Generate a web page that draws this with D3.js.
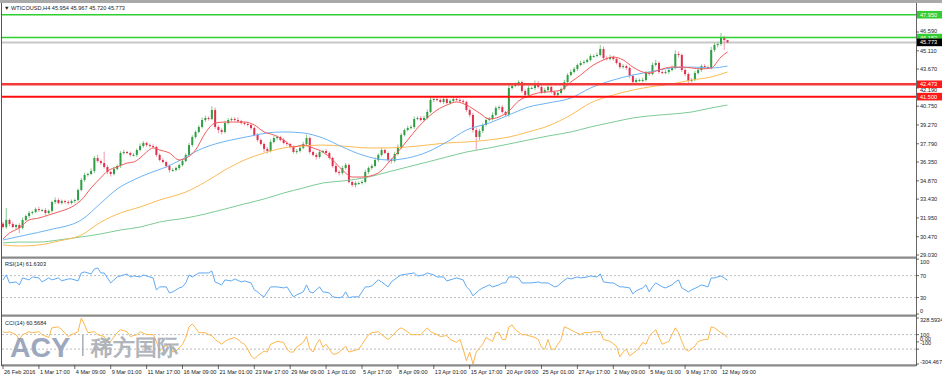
<!DOCTYPE html>
<html>
<head>
<meta charset="utf-8">
<script src="https://cdn.jsdelivr.net/npm/d3@7"></script>
<style>
  body { margin: 0; background: #fff; }
  text { font-family: "Liberation Sans", Arial, sans-serif; }
</style>
</head>
<body>
<div id="chart"></div>
<script>

// ---- WTICOUSD H4 closes ----
const firstOpen = 31.50;
const closes = [
  31.23,31.79,31.47,31.23,31.39,31.16,31.79,32.10,32.34,32.42,
  32.65,32.57,32.57,32.34,32.50,33.20,33.36,33.12,33.28,33.20,
  33.12,33.28,33.36,34.15,34.94,35.33,35.41,35.65,36.67,36.43,
  36.27,35.96,35.57,35.41,35.80,36.04,37.06,37.14,37.06,36.91,
  36.91,37.30,37.61,37.85,37.69,37.61,37.54,36.91,36.51,36.35,
  36.04,35.72,35.72,35.88,36.12,36.43,36.91,37.69,38.32,38.72,
  39.11,39.66,39.82,39.74,40.45,39.11,38.87,38.72,39.42,39.66,
  39.74,39.66,39.58,39.42,39.35,39.27,39.03,38.48,38.09,37.77,
  37.38,37.22,37.93,38.24,38.32,38.09,37.85,37.77,37.54,37.14,
  37.22,37.46,37.77,38.24,37.14,36.91,36.75,37.14,37.22,37.06,
  36.67,36.04,35.57,35.49,35.88,36.12,34.78,34.54,34.70,34.70,
  34.78,35.57,35.88,36.04,36.51,36.91,37.30,37.06,36.51,36.43,
  36.98,37.54,38.48,38.87,39.03,39.11,39.74,39.82,39.66,39.82,
  40.29,41.24,41.31,41.24,41.08,41.31,41.00,41.16,41.31,41.24,
  41.16,41.08,40.45,40.06,38.87,38.32,38.80,39.27,39.66,39.74,
  40.06,40.61,40.68,40.29,40.06,42.18,42.34,42.42,42.65,41.94,
  41.63,42.18,42.18,42.57,42.26,41.87,42.02,42.26,41.87,41.63,
  41.79,42.10,42.65,43.20,43.44,43.68,43.99,44.15,44.23,44.39,
  44.70,44.70,44.78,45.25,44.54,44.46,44.62,44.46,44.15,43.83,
  43.91,43.76,43.13,42.65,42.81,42.81,42.81,43.36,43.28,43.99,
  44.15,43.44,43.36,43.44,43.60,43.76,44.86,44.78,43.60,43.28,
  42.73,42.81,43.36,43.60,43.91,43.83,43.76,45.17,45.57,45.65,
  46.12,45.954,45.773
];

// wick lengths above / below the body
const upperWick = [
  .15,.94,.12,.18,.10,.14,.20,.12,.15,.10,
  .12,.18,.10,.15,.12,.10,.20,.14,.12,.10,
  .15,.12,.10,.12,.15,.18,.10,.20,.15,.25,
  .12,.90,.15,.10,.20,.12,.15,.18,.10,.12,
  .15,.12,.20,.15,.10,.12,.15,.10,.12,.15,
  .10,.12,.15,.12,.10,.15,.12,.18,.15,.12,
  .15,.20,.18,.12,.30,.20,.12,.15,.18,.15,
  .12,.15,.20,.10,.12,.15,.10,.12,.15,.10,
  .12,.15,.20,.15,.12,.10,.15,.12,.10,.12,
  .15,.12,.18,.25,.12,.10,.15,.12,.10,.15,
  .12,.10,.15,.12,.18,.15,.12,.10,.15,.12,
  .15,.18,.12,.15,.20,.12,.15,.10,.12,.15,
  .18,.20,.15,.12,.18,.15,.20,.12,.15,.18,
  .20,.25,.15,.18,.12,.20,.15,.12,.18,.15,
  .12,.15,.10,.12,.15,.20,.15,.12,.18,.15,
  .20,.15,.12,.15,.10,.25,.18,.20,.15,.12,
  .15,.18,.12,.20,.15,.12,.18,.15,.12,.10,
  .15,.12,.18,.15,.20,.15,.12,.18,.15,.12,
  .15,.12,.18,.32,.20,.15,.18,.12,.15,.12,
  .15,.12,.10,.12,.15,.12,.18,.15,.12,.20,
  .25,.15,.12,.15,.12,.18,.30,.20,.12,.15,
  .12,.15,.18,.15,.12,.15,.12,.25,.20,.15,
  .40,.18,.013
];
const lowerWick = [
  .12,.15,.18,.10,.15,.40,.12,.10,.15,.12,
  .10,.15,.12,.18,.10,.12,.15,.10,.12,.15,
  .12,.10,.15,.12,.10,.15,.12,.10,.15,.12,
  .15,.12,.18,.20,.12,.10,.15,.12,.10,.12,
  .12,.15,.10,.12,.15,.12,.10,.15,.12,.10,
  .15,.20,.12,.10,.15,.12,.10,.12,.15,.12,
  .10,.12,.15,.12,.10,.15,.25,.20,.12,.10,
  .12,.10,.15,.12,.10,.12,.15,.12,.15,.12,
  .25,.20,.12,.10,.15,.12,.10,.15,.12,.10,
  .15,.12,.10,.12,.15,.12,.20,.12,.10,.15,
  .12,.15,.12,.20,.15,.12,.12,.15,.20,.15,
  .12,.10,.15,.12,.10,.15,.12,.10,.15,.20,
  .12,.10,.15,.12,.10,.12,.15,.10,.12,.10,
  .12,.10,.15,.12,.10,.15,.12,.10,.15,.12,
  .10,.12,.15,.18,.20,1.00,.25,.15,.12,.10,
  .12,.10,.15,.12,.10,.15,.12,.10,.12,.15,
  .15,.12,.10,.15,.12,.15,.12,.10,.12,.18,
  .15,.12,.10,.12,.10,.12,.15,.10,.12,.10,
  .12,.15,.10,.12,.15,.12,.10,.15,.12,.15,
  .12,.15,.18,.15,.12,.15,.18,.12,.15,.10,
  .12,.15,.12,.10,.15,.12,.10,.20,.15,.18,
  .15,.12,.10,.12,.15,.12,.10,.12,.15,.20,
  .15,.78,.053
];

// moving averages, [bar, price]
const maRed = [[0,30.29],[2,30.76],[5,31.16],[8,31.79],[11,31.94],[14,32.18],[17,32.42],[21,32.81],[24,33.36],[27,34.31],[30,35.13],[32,35.64],[35,35.96],[38,36.27],[40,36.35],[42,36.67],[44,37.14],[46,37.46],[48,37.30],[51,37.06],[54,36.51],[59,37.30],[62,38.64],[65,39.42],[68,39.50],[71,39.50],[74,39.50],[77,39.27],[80,38.72],[83,38.48],[86,38.09],[89,37.54],[92,37.69],[95,37.46],[98,37.14],[101,36.51],[104,35.72],[107,35.17],[110,35.17],[115,35.49],[118,36.27],[121,37.14],[124,38.09],[127,39.03],[130,39.82],[133,40.45],[136,40.84],[139,41.08],[142,40.84],[146,40.21],[149,39.74],[152,39.90],[155,40.37],[158,41.16],[161,41.55],[164,41.79],[167,41.87],[171,42.02],[174,42.65],[177,43.20],[180,43.83],[184,44.39],[187,44.62],[190,44.39],[193,43.83],[196,43.44],[198,43.36],[201,43.60],[205,43.83],[208,43.83],[211,43.76],[214,43.68],[217,43.76],[220,44.62],[222,45.02]];
const maBlue = [[0,30.21],[7,30.60],[14,31.00],[24,31.79],[30,33.12],[35,34.23],[40,34.94],[45,35.49],[50,35.96],[55,36.59],[60,37.30],[65,37.77],[70,38.09],[76,38.40],[81,38.64],[86,38.72],[92,38.64],[98,38.24],[104,37.54],[110,36.91],[118,36.51],[124,36.67],[130,37.14],[136,37.93],[142,38.87],[149,39.42],[155,40.06],[161,40.68],[167,41.00],[174,41.39],[180,42.18],[187,42.81],[193,43.20],[198,43.44],[205,43.76],[211,43.83],[217,43.76],[222,43.91]];
const maOrange = [[0,29.82],[5,29.74],[11,29.82],[17,30.13],[24,30.60],[30,31.63],[36,32.34],[42,32.81],[48,33.36],[56,33.99],[62,34.78],[68,35.72],[74,36.51],[80,37.06],[86,37.46],[92,37.61],[98,37.69],[104,37.61],[112,37.46],[118,37.46],[124,37.54],[130,37.69],[136,37.85],[142,37.93],[149,38.09],[155,38.32],[161,38.72],[167,39.19],[174,40.06],[180,41.00],[187,41.63],[193,42.02],[198,42.26],[205,42.50],[211,42.81],[217,43.05],[222,43.44]];
const maGreen = [[0,29.98],[5,30.05],[11,30.05],[17,30.21],[24,30.45],[30,30.69],[36,31.00],[42,31.23],[48,31.63],[56,31.94],[62,32.26],[68,32.65],[74,33.05],[80,33.44],[86,33.91],[92,34.31],[98,34.70],[104,34.86],[112,35.17],[118,35.57],[124,35.96],[130,36.35],[136,36.75],[142,37.14],[149,37.46],[155,37.77],[161,38.09],[167,38.40],[174,38.72],[180,39.11],[187,39.50],[193,39.82],[198,39.98],[205,40.13],[211,40.29],[217,40.61],[222,40.84]];

// RSI(14), [bar, value]
const rsiPoints = [[0,62.2],[1,71.3],[2,56.7],[4,58.5],[5,53.1],[6,65.8],[8,62.2],[9,67.6],[11,65.8],[12,58.5],[14,65.8],[15,62.2],[17,65.8],[18,60.4],[20,64.0],[21,64.0],[23,60.4],[24,74.9],[25,76.7],[27,73.1],[28,82.2],[29,84.0],[30,74.9],[31,74.9],[32,65.8],[33,56.7],[34,62.2],[35,67.6],[37,71.3],[38,73.1],[39,67.6],[40,69.5],[42,67.6],[43,71.3],[45,67.6],[46,65.8],[47,44.0],[48,49.5],[49,49.5],[50,49.5],[51,38.5],[52,40.4],[54,47.6],[55,49.5],[56,56.7],[57,71.3],[58,67.6],[60,74.9],[62,74.9],[63,74.9],[64,78.5],[65,58.5],[67,53.1],[68,62.2],[70,60.4],[71,64.0],[73,58.5],[74,60.4],[76,56.7],[77,44.0],[78,40.4],[79,34.9],[80,31.3],[81,40.4],[82,49.5],[84,49.5],[86,47.6],[87,49.5],[89,31.3],[90,34.9],[92,40.4],[93,53.1],[94,40.4],[95,38.5],[97,49.5],[98,40.4],[100,38.5],[101,31.3],[103,29.5],[104,31.3],[105,40.4],[106,29.5],[107,31.3],[109,31.3],[111,49.5],[112,49.5],[113,51.3],[115,62.2],[116,58.5],[118,49.5],[119,58.5],[121,67.6],[122,71.3],[124,73.1],[126,74.9],[127,69.5],[129,71.3],[130,74.9],[132,71.3],[133,67.6],[135,67.6],[136,60.4],[138,64.0],[139,65.8],[141,62.2],[142,49.5],[143,44.0],[144,33.1],[146,44.0],[147,47.6],[149,53.1],[150,49.5],[152,53.1],[153,56.7],[154,56.7],[155,67.6],[157,67.6],[158,65.8],[159,56.7],[161,56.7],[162,56.7],[164,58.5],[165,56.7],[167,56.7],[169,49.5],[170,51.3],[171,56.7],[173,65.8],[174,64.0],[176,67.6],[177,65.8],[179,67.6],[180,69.5],[182,67.6],[183,73.1],[184,58.5],[186,56.7],[187,56.7],[189,49.5],[190,49.5],[192,47.6],[193,36.7],[194,42.2],[196,47.6],[197,53.1],[198,40.4],[199,49.5],[200,56.7],[202,49.5],[203,47.6],[205,53.1],[206,58.5],[207,62.2],[208,47.6],[210,40.4],[211,44.0],[213,49.5],[214,53.1],[216,49.5],[217,65.8],[218,65.8],[220,69.5],[221,65.8],[222,61.6303]];

// CCI(14), [bar, value]
const cciPoints = [[0,140],[1,127],[2,140],[4,100],[5,33],[6,100],[8,140],[9,127],[11,140],[12,100],[14,60],[15,193],[17,207],[18,167],[20,73],[21,100],[23,140],[24,328.5934],[25,233],[26,127],[28,140],[29,100],[31,73],[32,-7],[33,7],[35,127],[36,167],[38,140],[39,73],[41,100],[42,140],[44,100],[46,100],[47,7],[48,-127],[49,-73],[51,-33],[52,-140],[53,-127],[55,-33],[56,60],[57,207],[58,247],[59,193],[60,127],[62,127],[63,100],[64,87],[65,33],[67,-33],[68,7],[69,33],[71,60],[72,33],[73,-7],[74,-33],[75,-100],[76,-193],[77,-233],[78,-193],[80,-127],[81,-140],[82,-33],[84,7],[86,-7],[87,-100],[88,-140],[89,-140],[90,-73],[92,-7],[93,73],[94,-100],[95,-140],[96,-33],[97,33],[98,-73],[99,-33],[100,-100],[101,-167],[102,-167],[103,-140],[105,-60],[106,-140],[107,-127],[109,-100],[110,-33],[112,100],[113,127],[115,140],[116,100],[118,33],[119,73],[121,167],[122,193],[124,140],[125,100],[127,100],[128,100],[130,193],[131,140],[133,100],[134,73],[136,87],[137,33],[139,-7],[140,33],[141,-100],[142,-260],[143,-140],[144,-304.467],[145,-140],[147,-33],[148,60],[150,7],[151,127],[152,127],[153,33],[154,33],[155,207],[156,233],[157,167],[159,100],[160,100],[162,73],[163,60],[164,33],[165,-73],[166,-100],[167,33],[168,-100],[169,-100],[171,33],[172,207],[174,167],[175,140],[177,100],[178,127],[180,127],[181,140],[183,140],[184,33],[186,7],[188,-60],[189,-207],[190,-140],[191,-100],[192,-193],[194,-127],[195,-73],[196,-7],[197,-33],[198,73],[199,127],[200,167],[201,60],[202,-33],[204,7],[205,100],[206,193],[207,127],[208,7],[209,-100],[210,-127],[212,-60],[213,7],[215,33],[216,33],[217,207],[218,193],[220,127],[221,100],[222,60.5684]];

// axes
const priceTicks = [46.590,45.110,43.670,42.190,40.750,39.270,37.790,36.350,34.870,33.430,31.950,30.470,29.030];
const rsiTicks = [100, 70, 30, 0];
const rsiLevels = [70, 30];
const cciTicks = [328.5934, 100, 0, -100, -304.467];
const cciTickText = ["328.5934", "100", "0.00", "-100", "-304.467"];
const cciLevels = [100, -100];
const timeLabels = ["26 Feb 2016","1 Mar 17:00","4 Mar 09:00","9 Mar 01:00","11 Mar 17:00","16 Mar 09:00","21 Mar 01:00","23 Mar 17:00","29 Mar 09:00","1 Apr 01:00","5 Apr 17:00","8 Apr 09:00","13 Apr 01:00","15 Apr 17:00","20 Apr 09:00","25 Apr 01:00","27 Apr 17:00","2 May 09:00","5 May 01:00","9 May 17:00","12 May 09:00"];
const timeBars = [0,11,22,33,44,55,66,77,88,99,110,121,132,143,154,165,176,187,198,209,220];

// horizontal levels drawn on the chart
const levelPrices = [47.950, 46.152, 42.473, 41.500];
const levelColors = ["#2fcf2f", "#2fcf2f", "#f33a3a", "#ff0d0d"];
const levelWidths = [1.5, 1.5, 2.5, 2];

// ---- layout ----
const width = 942, height = 378;
const left = 2, right = 916;
const main = {top: 4, bottom: 256.5};
const rsiBox = {top: 259, bottom: 314.5};
const cciBox = {top: 317, bottom: 364.5};
const fontSize = 5.6;
const tagHalf = 3.8;

const svg = d3.select("#chart").append("svg")
    .attr("width", width)
    .attr("height", height);

const fmt3 = d3.format(".3f");

// candles
const bars = closes.map((c, i) => {
    let o = i === 0 ? firstOpen : closes[i - 1];
    return {i: i, o: o, c: c, h: Math.max(o, c) + upperWick[i], l: Math.min(o, c) - lowerWick[i]};
});
const last = bars[bars.length - 1];

// scales
const x = d3.scaleLinear().domain([0, 220]).range([3, 721]);
const y = d3.scaleLinear().domain([29.03, 46.59]).range([255, 32]);
const yRsi = d3.scaleLinear().domain([0, 100]).range([314, 259.2]);
const yCci = d3.scaleLinear().domain([-304.467, 328.5934]).range([364, 318]);

// clip paths
const defs = svg.append("defs");
[["clipMain", main], ["clipRsi", rsiBox], ["clipCci", cciBox]].forEach(([id, b]) => {
    defs.append("clipPath").attr("id", id)
        .append("rect")
        .attr("x", left).attr("y", b.top)
        .attr("width", right - left).attr("height", b.bottom - b.top);
});

// top grey bar
svg.append("rect").attr("x", 0).attr("y", 0).attr("width", width).attr("height", 3).attr("fill", "#a9a9a9");

const gMain = svg.append("g").attr("clip-path", "url(#clipMain)");

// current price line (grey)
gMain.append("line")
    .attr("x1", left).attr("x2", right)
    .attr("y1", y(last.c)).attr("y2", y(last.c))
    .attr("stroke", "#c8c8c8").attr("stroke-width", 2);

// candles
const candle = gMain.append("g").selectAll("g")
    .data(bars)
    .enter().append("g");

candle.append("line")
    .attr("x1", d => x(d.i)).attr("x2", d => x(d.i))
    .attr("y1", d => y(d.h)).attr("y2", d => y(d.l))
    .attr("stroke", d => d.c >= d.o ? "#88c98f" : "#f09aab")
    .attr("stroke-width", 1);

candle.append("rect")
    .attr("x", d => x(d.i) - 1)
    .attr("width", 2)
    .attr("y", d => y(Math.max(d.o, d.c)))
    .attr("height", d => Math.max(1, Math.abs(y(d.o) - y(d.c))))
    .attr("fill", d => d.c >= d.o ? "#2f9e44" : "#e0304e");

// moving averages
const maLine = d3.line()
    .x(d => x(d[0]))
    .y(d => y(d[1]))
    .curve(d3.curveMonotoneX);

[[maGreen, "#7ccb96"], [maOrange, "#fbbb55"], [maBlue, "#6db3f5"], [maRed, "#f25a5a"]].forEach(([data, color]) => {
    gMain.append("path")
        .datum(data)
        .attr("d", maLine)
        .attr("fill", "none")
        .attr("stroke", color)
        .attr("stroke-width", 1);
});

// horizontal levels
gMain.selectAll(".level")
    .data(levelPrices)
    .enter().append("line")
    .attr("class", "level")
    .attr("x1", left).attr("x2", right)
    .attr("y1", d => y(d)).attr("y2", d => y(d))
    .attr("stroke", (d, i) => levelColors[i])
    .attr("stroke-width", (d, i) => levelWidths[i]);

// title
svg.append("text")
    .attr("x", 4).attr("y", 10)
    .attr("font-size", fontSize).attr("fill", "#222")
    .text("\u25BC WTICOUSD,H4  " + [last.o, last.h, last.l, last.c].map(fmt3).join(" "));

// ---- RSI panel ----
const gRsi = svg.append("g").attr("clip-path", "url(#clipRsi)");
gRsi.selectAll(".lvl")
    .data(rsiLevels)
    .enter().append("line")
    .attr("x1", left).attr("x2", right)
    .attr("y1", d => yRsi(d)).attr("y2", d => yRsi(d))
    .attr("stroke", "#bdbdbd").attr("stroke-dasharray", "2,2").attr("stroke-width", 1);

gRsi.append("path")
    .datum(rsiPoints)
    .attr("d", d3.line().x(d => x(d[0])).y(d => yRsi(d[1])))
    .attr("fill", "none")
    .attr("stroke", "#5ea9f3")
    .attr("stroke-width", 1);

svg.append("text")
    .attr("x", 5).attr("y", 266)
    .attr("font-size", fontSize).attr("fill", "#222")
    .text("RSI(14) " + d3.format(".4f")(rsiPoints[rsiPoints.length - 1][1]));

// ---- CCI panel ----
const gCci = svg.append("g").attr("clip-path", "url(#clipCci)");
gCci.selectAll(".lvl")
    .data(cciLevels)
    .enter().append("line")
    .attr("x1", left).attr("x2", right)
    .attr("y1", d => yCci(d)).attr("y2", d => yCci(d))
    .attr("stroke", "#bdbdbd").attr("stroke-dasharray", "2,2").attr("stroke-width", 1);

gCci.append("path")
    .datum(cciPoints)
    .attr("d", d3.line().x(d => x(d[0])).y(d => yCci(d[1])))
    .attr("fill", "none")
    .attr("stroke", "#fdb64c")
    .attr("stroke-width", 1);

svg.append("text")
    .attr("x", 5).attr("y", 324.5)
    .attr("font-size", fontSize).attr("fill", "#222")
    .text("CCI(14) " + d3.format(".4f")(cciPoints[cciPoints.length - 1][1]));

// watermark
const wm = svg.append("g").attr("opacity", 0.85);
wm.append("text")
    .attr("x", 10).attr("y", 357)
    .attr("font-size", 28.5).attr("font-weight", "bold")
    .attr("fill", "#8c9ab3")
    .text("ACY");
wm.append("rect")
    .attr("x", 82).attr("y", 335).attr("width", 1.6).attr("height", 21)
    .attr("fill", "#9ea6b3");
wm.append("text")
    .attr("x", 91).attr("y", 355)
    .attr("font-size", 21.5)
    .attr("font-family", "'Noto Sans CJK SC', sans-serif")
    .attr("font-weight", "bold")
    .attr("fill", "#a3a8b0")
    .text("稀方国际");

// ---- frames ----
[main.bottom + 1.2, rsiBox.bottom + 1.2, cciBox.bottom + 0.8].forEach(v => {
    svg.append("line")
        .attr("x1", left).attr("x2", right)
        .attr("y1", v).attr("y2", v)
        .attr("stroke", "#8a8a8a").attr("stroke-width", 2.2);
});
svg.append("line")
    .attr("x1", 1.5).attr("x2", 1.5).attr("y1", 3).attr("y2", 366)
    .attr("stroke", "#555").attr("stroke-width", 1);
svg.append("line")
    .attr("x1", right + 0.5).attr("x2", right + 0.5).attr("y1", 3).attr("y2", 366)
    .attr("stroke", "#666").attr("stroke-width", 1);

// ---- right axis ----
const axisG = svg.append("g").attr("font-size", fontSize).attr("fill", "#222");
const tagPrices = levelPrices.concat([last.c]);

// push a price label clear of any tag box it would sit under
function clearOfTags(ty) {
    tagPrices.forEach(p => {
        let ty0 = y(p);
        let gap = tagHalf + 2.3;
        if (Math.abs(ty - ty0) < gap) {
            ty = ty >= ty0 ? ty0 + gap : ty0 - gap;
        }
    });
    return ty;
}

function axisTicks(values, scale, lo, hi, texts, nudge, avoid) {
    values.forEach((v, i) => {
        let ty = Math.min(hi, Math.max(lo, scale(v) + (nudge ? nudge[i] : 0)));
        if (avoid) ty = clearOfTags(ty);
        axisG.append("line")
            .attr("x1", right).attr("x2", right + 3)
            .attr("y1", scale(v)).attr("y2", scale(v))
            .attr("stroke", "#444").attr("stroke-width", 0.8);
        axisG.append("text")
            .attr("x", right + 4).attr("y", ty)
            .attr("dy", "0.35em")
            .text(texts ? texts[i] : v);
    });
}

axisTicks(priceTicks, y, 6, 255, priceTicks.map(fmt3), null, true);
axisTicks(rsiTicks, yRsi, 262, 311);
axisTicks(cciTicks, yCci, 320.5, 362.5, cciTickText, [0, 0, -3, -6, 0]);

// price tags for levels and current price
const tagFills = ["#33cc33", "#33cc33", "#ff1a1a", "#ff1a1a", "#000"];
tagPrices.forEach((p, i) => {
    svg.append("rect")
        .attr("x", right + 1).attr("y", y(p) - tagHalf)
        .attr("width", 25).attr("height", tagHalf * 2)
        .attr("fill", tagFills[i]);
    svg.append("text")
        .attr("x", right + 4).attr("y", y(p))
        .attr("dy", "0.35em")
        .attr("font-size", fontSize).attr("fill", "#fff")
        .text(fmt3(p));
});

// ---- time axis ----
timeBars.forEach((b, i) => {
    svg.append("line")
        .attr("x1", x(b)).attr("x2", x(b))
        .attr("y1", 365).attr("y2", 369)
        .attr("stroke", "#444").attr("stroke-width", 0.8);
    svg.append("text")
        .attr("x", x(b) + 1).attr("y", 374)
        .attr("font-size", fontSize).attr("fill", "#222")
        .text(timeLabels[i]);
});

</script>
</body>
</html>
